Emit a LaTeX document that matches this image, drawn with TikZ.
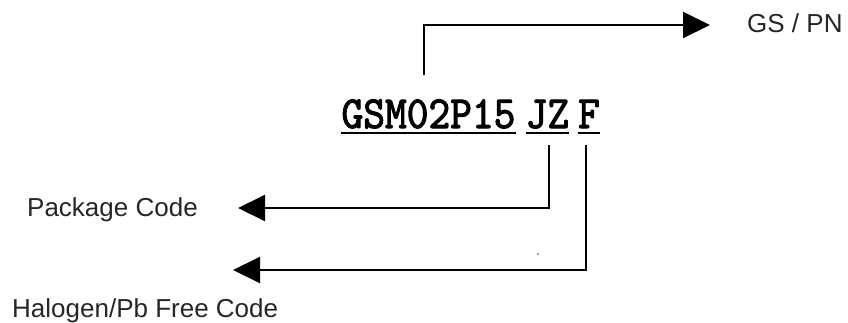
\documentclass[tikz,border=0pt]{standalone}
\usepackage{fontspec}
\setmainfont{Liberation Sans}
\newfontfamily\codefont[FakeStretch=0.9,FakeBold=2.2]{lmmono10-regular.otf}
\usetikzlibrary{arrows.meta,calc}
\begin{document}
\begin{tikzpicture}[x=1pt,y=-1pt,
  lbl/.style={inner sep=0pt,anchor=base west,font=\fontsize{26}{30}\selectfont,text=black!85},
  code/.style={inner sep=0pt,anchor=base,font=\codefont\fontsize{46}{52}\selectfont},
  conn/.style={line width=2pt,-{Triangle[length=27pt,width=26pt]}},
  uline/.style={line width=2pt}]
\useasboundingbox (0,0) rectangle (848,322);
% labels
\node[lbl] (gspn) at (747,32) {GS / PN};
\node[lbl] (pkg) at (27,216) {Package Code};
\node[lbl] (hal) at (12,317) {Halogen/Pb Free Code};
% code text
\node[code] (gsm) at (428.5,128) {GSM02P15};
\node[code] (jz) at (547.5,128) {JZ};
\node[code] (f) at (589,128) {F};
% underlines
\draw[uline] ([yshift=-5pt]gsm.base west) -- ([yshift=-5pt]gsm.base east);
\draw[uline] ([yshift=-5pt]jz.base west) -- ([yshift=-5pt]jz.base east);
\draw[uline] ([yshift=-5pt]f.base west) -- ([yshift=-5pt]f.base east);
% arrow tips
\coordinate (gstip) at (710,25);
\coordinate (pkgtip) at (238,208);
\coordinate (haltip) at (233,270);
% connectors
\draw[conn] ([xshift=-4.5pt]gsm.north |- 0,75) |- (gstip);
\draw[conn] ([xshift=1.5pt,yshift=-17pt]jz.base) |- (pkgtip);
\draw[conn] ([xshift=-3pt,yshift=-17pt]f.base) |- (haltip);
% stray mark
\fill[black!50] (538,254) circle (1.2);
\end{tikzpicture}
\end{document}
